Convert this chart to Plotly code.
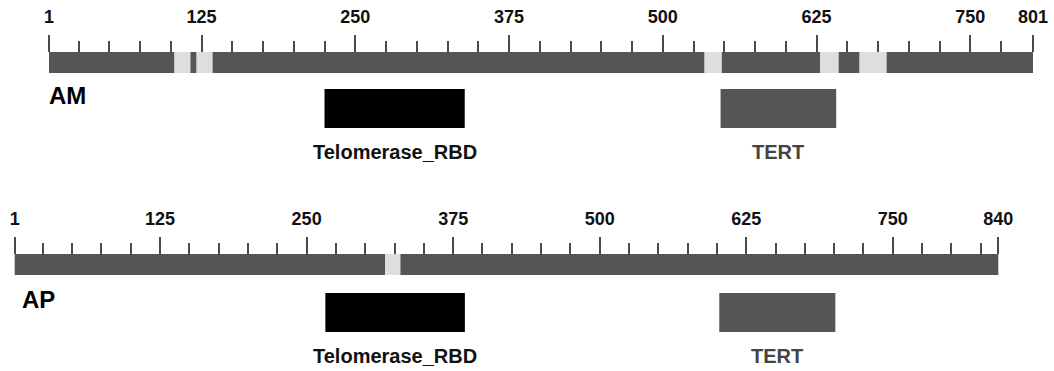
import plotly.graph_objects as go

# ---------------- data ----------------
am_length = 801
am_major_ticks = [1, 125, 250, 375, 500, 625, 750, 801]
am_gaps_start = [103, 121, 534, 628, 660]
am_gaps_end = [116, 134, 548, 643, 682]
am_domain_names = ["Telomerase_RBD", "TERT"]
am_domain_start = [225, 547]
am_domain_end = [339, 641]

ap_length = 840
ap_major_ticks = [1, 125, 250, 375, 500, 625, 750, 840]
ap_gaps_start = [317]
ap_gaps_end = [330]
ap_domain_names = ["Telomerase_RBD", "TERT"]
ap_domain_start = [266, 602]
ap_domain_end = [385, 701]

# ---------------- style ----------------
W, H = 1054, 371
DARK = "#555555"
TICK = "#4a4a4a"
LIGHT = "#dedede"
FONT = "Liberation Sans"
domain_colors = {"Telomerase_RBD": "#000000", "TERT": "#555555"}
label_colors = {"Telomerase_RBD": "#111111", "TERT": "#444444"}

tracks = [
    dict(name="AM", length=am_length, majors=am_major_ticks, gs=am_gaps_start, ge=am_gaps_end,
         dn=am_domain_names, ds=am_domain_start, de=am_domain_end,
         xr=[1 - 49 / 1.23, 1 + (W - 49) / 1.23], bar=(52, 73), box=(89, 128),
         lab_y=152, name_x=47, name_y=95, minor_end=800),
    dict(name="AP", length=ap_length, majors=ap_major_ticks, gs=ap_gaps_start, ge=ap_gaps_end,
         dn=ap_domain_names, ds=ap_domain_start, de=ap_domain_end,
         xr=[1 - 14.7 / 1.17235, 1 + (W - 14.7) / 1.17235], bar=(254, 275), box=(293, 332),
         lab_y=356, name_x=20, name_y=299, minor_end=840),
]

fig = go.Figure()
shapes = []
annotations = []

for i, t in enumerate(tracks):
    xa = "x" if i == 0 else "x2"
    ya = "y" if i == 0 else "y2"
    fig.add_trace(go.Scatter(x=[t["xr"][0]], y=[0], xaxis=xa, yaxis=ya, mode="markers",
                             marker=dict(opacity=0), hoverinfo="skip", showlegend=False))
    y0, y1 = t["bar"]
    pos = 1
    for s, e in zip(t["gs"], t["ge"]):
        shapes.append(dict(type="rect", xref=xa, yref=ya, x0=pos, x1=s, y0=y0, y1=y1,
                           fillcolor=DARK, line=dict(width=0), layer="below"))
        shapes.append(dict(type="rect", xref=xa, yref=ya, x0=s, x1=e, y0=y0, y1=y1,
                           fillcolor=LIGHT, line=dict(width=0), layer="below"))
        pos = e
    shapes.append(dict(type="rect", xref=xa, yref=ya, x0=pos, x1=t["length"], y0=y0, y1=y1,
                       fillcolor=DARK, line=dict(width=0), layer="below"))
    b0, b1 = t["box"]
    for n, s, e in zip(t["dn"], t["ds"], t["de"]):
        shapes.append(dict(type="rect", xref=xa, yref=ya, x0=s, x1=e, y0=b0, y1=b1,
                           fillcolor=domain_colors[n], line=dict(width=0)))
        annotations.append(dict(text=n, xref=xa, yref=ya, x=(s + e) / 2, y=t["lab_y"],
                                showarrow=False, xanchor="center", yanchor="middle",
                                font=dict(family=FONT, size=20, color=label_colors[n], weight="bold")))
    annotations.append(dict(text=t["name"], xref="paper", yref=ya, x=t["name_x"] / W, y=t["name_y"],
                            showarrow=False, xanchor="left", yanchor="middle",
                            font=dict(family=FONT, size=24, color="#000000", weight="bold")))

    axis = dict(range=t["xr"], domain=[0, 1], anchor="free", position=1 - y0 / H, side="top",
                showgrid=False, zeroline=False, showline=False,
                tickmode="array", tickvals=t["majors"], ticktext=[str(v) for v in t["majors"]],
                ticks="outside", ticklen=17, tickwidth=2, tickcolor=TICK,
                ticklabelstandoff=5,
                tickfont=dict(family=FONT, size=18, color="#111111", weight="bold"),
                minor=dict(tickmode="array", tickvals=list(range(25, t["minor_end"], 25)),
                           ticks="outside", ticklen=11, tickwidth=1.8, tickcolor=TICK, showgrid=False),
                fixedrange=True)
    yaxis = dict(range=[H, 0], domain=[0, 1], visible=False, fixedrange=True)
    if i == 0:
        fig.update_layout(xaxis=axis, yaxis=yaxis)
    else:
        axis["overlaying"] = "x"
        yaxis["overlaying"] = "y"
        yaxis["anchor"] = "x2"
        fig.update_layout(xaxis2=axis, yaxis2=yaxis)

fig.update_layout(width=W, height=H, autosize=False, margin=dict(l=0, r=0, t=0, b=0),
                  paper_bgcolor="white", plot_bgcolor="white", showlegend=False,
                  shapes=shapes, annotations=annotations)

fig.write_html("out.html", config={"displayModeBar": False},
               post_script="document.body.style.margin='0px';document.body.style.overflow='hidden';")
